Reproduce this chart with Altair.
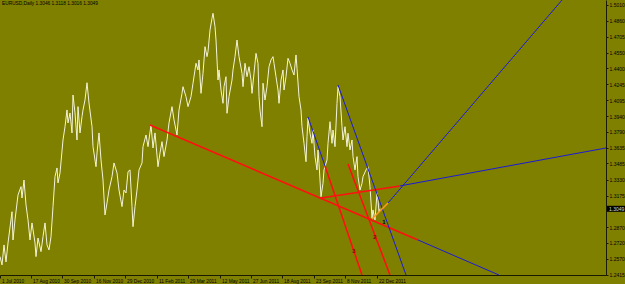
import altair as alt
import pandas as pd

# ---- price series (bar index, close) ----
bar = [0, 2, 4, 6, 8, 12, 13, 15, 18, 21, 22, 24, 26, 28, 30, 32, 35, 36, 38, 41, 43, 45, 47, 49,
       51, 53, 55, 57, 58, 60, 63, 65, 67, 68, 70, 72, 73, 75, 77, 78, 80, 82, 83, 85, 87, 89, 92,
       93, 96, 97, 99, 101, 103, 105, 107, 109, 112, 114, 117, 119, 122, 124, 126, 128, 130, 132,
       133, 135, 137, 139, 142, 143, 146, 148, 151, 153, 155, 158, 160, 162, 164, 167, 169, 172,
       174, 177, 179, 182, 183, 186, 188, 191, 193, 196, 198, 199, 201, 203, 205, 207, 208, 210,
       212, 213, 215, 216, 218, 219, 221, 223, 224, 226, 227, 229, 232, 233, 235, 237, 239, 242,
       243, 245, 247, 249, 251, 252, 254, 256, 258, 259, 260, 262, 263, 265, 267, 269, 271, 273,
       274, 276, 278, 279, 281, 283, 284, 286, 288, 290, 292, 294, 296, 297, 299, 301, 302, 304,
       306, 307, 308, 310, 312, 313, 315, 317, 318, 319, 321, 323, 324, 327, 328, 330, 332, 333,
       335, 337, 338, 340, 342, 343, 345, 347, 348, 350, 352, 353, 355, 357, 358, 360, 362, 363,
       366, 368, 370, 372, 373, 375, 377, 378, 379, 380]
price = [1.2589, 1.2509, 1.2701, 1.2538, 1.2720, 1.3021, 1.2749, 1.2942, 1.3182, 1.3262, 1.3153,
         1.3326, 1.3086, 1.2942, 1.2749, 1.2913, 1.2720, 1.2589, 1.2768, 1.2637, 1.2781, 1.2913,
         1.2701, 1.2653, 1.2781, 1.3070, 1.3358, 1.3442, 1.3298, 1.3394, 1.3711, 1.3839, 1.4000,
         1.3875, 1.3971, 1.3779, 1.4144, 1.3971, 1.3711, 1.4032, 1.3779, 1.3935, 1.4000, 1.4096,
         1.4262, 1.4067, 1.3839, 1.3647, 1.3454, 1.3586, 1.3779, 1.3519, 1.3326, 1.2990, 1.3105,
         1.3230, 1.3358, 1.3490, 1.3394, 1.3230, 1.3070, 1.3230, 1.3201, 1.3406, 1.3423, 1.3070,
         1.2877, 1.3070, 1.3230, 1.3423, 1.3490, 1.3647, 1.3759, 1.3647, 1.3855, 1.3634, 1.3779,
         1.3454, 1.3586, 1.3695, 1.3551, 1.3711, 1.3875, 1.4032, 1.3904, 1.3759, 1.4000, 1.4160,
         1.4224, 1.4128, 1.4032, 1.4128, 1.4257, 1.4449, 1.4385, 1.4481, 1.4160, 1.4353, 1.4609,
         1.4513, 1.4561, 1.4769, 1.4882, 1.4930, 1.4801, 1.4673, 1.4288, 1.4385, 1.4192, 1.4064,
         1.4224, 1.4320, 1.3968, 1.4128, 1.4288, 1.4385, 1.4513, 1.4673, 1.4513, 1.4353, 1.4224,
         1.4449, 1.4320, 1.4416, 1.4288, 1.4160, 1.4353, 1.4545, 1.4449, 1.4128, 1.4000, 1.3839,
         1.4257, 1.4096, 1.4224, 1.4416, 1.4481, 1.4513, 1.4449, 1.4320, 1.4192, 1.4064, 1.4288,
         1.4385, 1.4192, 1.4320, 1.4497, 1.4449, 1.4385, 1.4336, 1.4529, 1.4401, 1.4128, 1.4000,
         1.3839, 1.3679, 1.3502, 1.3743, 1.3920, 1.3776, 1.3679, 1.3807, 1.3551, 1.3423, 1.3615,
         1.3487, 1.3166, 1.3295, 1.3423, 1.3519, 1.3679, 1.3887, 1.3679, 1.3807, 1.3647, 1.4064,
         1.4224, 1.4128, 1.3839, 1.3711, 1.3839, 1.3647, 1.3776, 1.3615, 1.3711, 1.3551, 1.3423,
         1.3551, 1.3358, 1.3230, 1.3295, 1.3358, 1.3423, 1.3454, 1.3262, 1.2961, 1.3038, 1.2942,
         1.3198, 1.3134, 1.3019, 1.3049]

# ---- axes ----
tick_pos = [0, 31, 62, 94, 125, 157, 188, 220, 251, 282, 314, 345, 377]
tick_labels = ["1 Jul 2010", "17 Aug 2010", "30 Sep 2010", "16 Nov 2010", "29 Dec 2010",
               "11 Feb 2011", "29 Mar 2011", "12 May 2011", "27 Jun 2011", "18 Aug 2011",
               "23 Sep 2011", "8 Nov 2011", "22 Dec 2011"]
price_ticks = [1.5010, 1.4860, 1.4705, 1.4550, 1.4400, 1.4245, 1.4095, 1.3940, 1.3790, 1.3635,
               1.3485, 1.3330, 1.3175, 1.2870, 1.2720, 1.2570, 1.2415]
x_domain = [0, 606]
y_domain = [1.2412, 1.5058]

# ---- trend lines (bar, price) -> (bar, price) ----
red_x = [150, 321, 325, 348]
red_y = [1.3856, 1.3153, 1.3461, 1.3480]
red_x2 = [418, 400, 362, 390]
red_y2 = [1.2749, 1.3269, 1.2412, 1.2412]

blue_x = [418, 400, 308, 338, 388]
blue_y = [1.2749, 1.3269, 1.3933, 1.4240, 1.3105]
blue_x2 = [499, 606, 325, 406, 562]
blue_y2 = [1.2412, 1.3634, 1.3461, 1.2412, 1.5058]

orange_x = [372]
orange_y = [1.2951]
orange_x2 = [388]
orange_y2 = [1.3105]

mark_labels = ["1", "2", "3"]
mark_label_x = [384, 375, 354]
mark_label_y = [1.2922, 1.2778, 1.2643]
mark_label_color = ["#000000", "#8b0000", "#8b0000"]

header = "EURUSD,Daily  1.3046 1.3118 1.3016 1.3049"
last_price = [1.3049]

FONT = "Liberation Sans"
BG = "#808000"
AX = "#1a1a00"

labels_js = "[" + ",".join("'" + t + "'" for t in tick_labels) + "]"
pos_js = "[" + ",".join(str(p) for p in tick_pos) + "]"
x_label_expr = labels_js + "[indexof(" + pos_js + ", datum.value)]"

x_axis = alt.Axis(values=tick_pos, labelExpr=x_label_expr, labelAlign="left", labelBaseline="top",
                  labelFontSize=4.8, labelFont=FONT, labelColor="black", labelPadding=0,
                  labelOffset=1.5, tickSize=3, tickColor=AX, domainColor=AX, domainWidth=1,
                  grid=False, title=None, labelFlush=False, labelOverlap=False, labelBound=False)
y_axis = alt.Axis(orient="right", values=price_ticks, format=".4f", labelFontSize=5,
                  labelFont=FONT, labelColor="black", labelAlign="left", labelBaseline="middle",
                  labelPadding=1, tickSize=2, tickColor=AX, domainColor=AX, domainWidth=1,
                  grid=False, title=None, labelFlush=False, labelOverlap=False, labelBound=False)

def xe(f):
    return alt.X(f, type="quantitative", scale=alt.Scale(domain=x_domain, nice=False, zero=False), axis=x_axis)

def ye(f):
    return alt.Y(f, type="quantitative", scale=alt.Scale(domain=y_domain, nice=False, zero=False), axis=y_axis)

price_df = pd.DataFrame({"bar": bar, "price": price})
line = alt.Chart(price_df).mark_line(color="#f4f4d8", strokeWidth=1, clip=True).encode(
    x=xe("bar"), y=ye("price"), order="bar:Q")

def seg_layer(xs, ys, x2s, y2s, color, width):
    df = pd.DataFrame({"x": xs, "y": ys, "x2": x2s, "y2": y2s})
    return alt.Chart(df).mark_rule(color=color, strokeWidth=width, clip=True).encode(
        x=xe("x"), y=ye("y"), x2="x2", y2="y2")

red = seg_layer(red_x, red_y, red_x2, red_y2, "#ff1010", 1.6)
blue = seg_layer(blue_x, blue_y, blue_x2, blue_y2, "#1a1ad8", 1)
orange = seg_layer(orange_x, orange_y, orange_x2, orange_y2, "#ff9a20", 1.6)

lab_df = pd.DataFrame({"x": mark_label_x, "y": mark_label_y, "t": mark_labels, "c": mark_label_color})
labs = alt.Chart(lab_df).mark_text(font=FONT, fontSize=6, fontWeight="bold", align="center",
                                   baseline="middle").encode(
    x=xe("x"), y=ye("y"), text="t:N", color=alt.Color("c:N", scale=None))

head_df = pd.DataFrame({"t": [header]})
head = alt.Chart(head_df).mark_text(font=FONT, fontSize=4.8, align="left", baseline="middle",
                                    color="black").encode(
    x=alt.value(2), y=alt.value(3.5), text="t:N")

lp_df = pd.DataFrame({"p": last_price})
box = alt.Chart(lp_df).mark_tick(color="black", thickness=6, size=18, orient="horizontal",
                                 opacity=1).encode(x=alt.value(616), y=ye("p"))
box_text = alt.Chart(lp_df).mark_text(font=FONT, fontSize=5, align="left", baseline="middle",
                                      color="#d8d8c0").encode(
    x=alt.value(609), y=ye("p"), text=alt.Text("p:Q", format=".4f"))

chart = alt.layer(line, red, blue, orange, labs, head, box, box_text).properties(
    width=606, height=275, autosize="none",
    padding={"left": 0, "top": 0, "right": 19, "bottom": 9},
    background=BG,
).configure_view(stroke=None, fill=BG)

chart.save("out.html", embed_options={"renderer": "svg", "actions": False})
